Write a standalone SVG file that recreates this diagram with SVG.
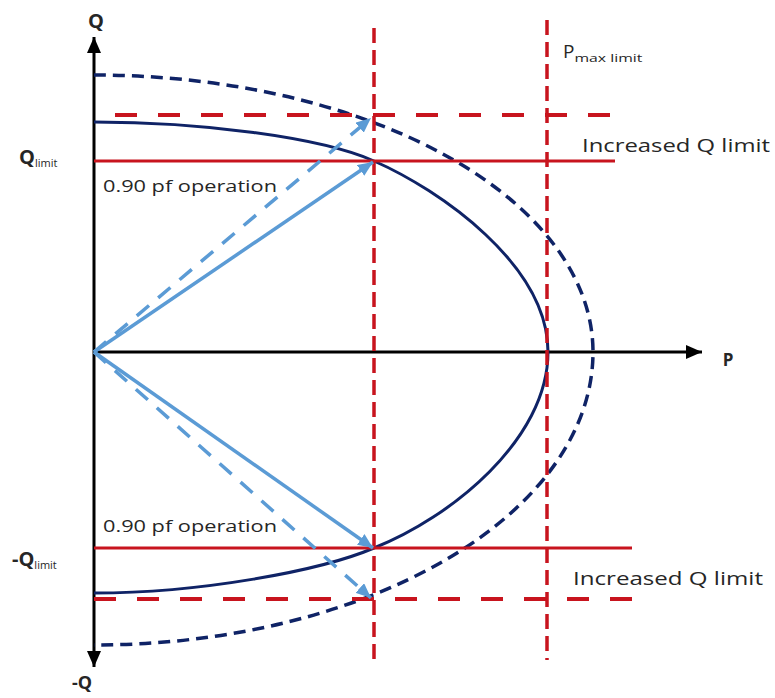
<svg xmlns="http://www.w3.org/2000/svg" width="775" height="698" viewBox="0 0 775 698">
<defs>
<style>
.txt{font-family:"Open Sans","Liberation Sans",sans-serif;fill:#262626;}
.lbl{font-size:16px;}
.big{font-size:20px;font-weight:bold;}
.sub{font-size:11px;font-weight:normal;}
.axis{stroke:#000;stroke-width:3;fill:none;}
.redv{stroke:#C8141E;stroke-width:3.5;stroke-dasharray:15 7;fill:none;}
.redh{stroke:#C8141E;stroke-width:3;fill:none;}
.redhd{stroke:#C8141E;stroke-width:4;stroke-dasharray:22 21;fill:none;}
.cap{stroke:#0F2366;stroke-width:3;fill:none;}
.capd{stroke:#0F2366;stroke-width:3.5;stroke-dasharray:12 7;fill:none;}
.vec{stroke:#5B9BD5;stroke-width:3.5;fill:none;marker-end:url(#bh);}
.vecd{stroke:#5B9BD5;stroke-width:3.5;fill:none;stroke-dasharray:16 12;marker-end:url(#bh);}
</style>
<marker id="bh" markerUnits="userSpaceOnUse" markerWidth="15" markerHeight="13" refX="15" refY="6.5" orient="auto">
<path d="M0,0 L15,6.5 L0,13 z" fill="#5B9BD5"/>
</marker>
<marker id="ah" markerUnits="userSpaceOnUse" markerWidth="16" markerHeight="14" refX="16" refY="7" orient="auto-start-reverse">
<path d="M0,0 L16,7 L0,14 z" fill="#000"/>
</marker>
</defs>
<rect width="775" height="698" fill="#fff"/>

<g id="axes">
<line class="axis" x1="94" y1="667" x2="94" y2="37" marker-start="url(#ah)" marker-end="url(#ah)"/>
<line class="axis" x1="94" y1="352" x2="702" y2="352" marker-end="url(#ah)"/>
</g>

<g id="capability-curves">
<path id="curve-solid" class="cap" d="M94,122 C200,122 320,137 374,161 C440,190 548,265 548,352 C548,440 450,518 374,548 C320,571 200,593 94,593"/>
<path id="curve-dashed" class="capd" d="M94,75 A499,277 0 0 1 593,352 A499,293 0 0 1 94,645"/>
</g>

<g id="limit-lines">
<line class="redh" x1="94" y1="161" x2="615" y2="161"/>
<line class="redhd" x1="115" y1="115" x2="615" y2="115"/>
<line class="redh" x1="94" y1="548" x2="632" y2="548"/>
<line class="redhd" x1="94" y1="599" x2="632" y2="599"/>
<line class="redv" x1="374" y1="28" x2="374" y2="660"/>
<line class="redv" x1="547" y1="20" x2="547" y2="660"/>
</g>

<g id="connectors">
<line class="vecd" x1="94" y1="352" x2="371" y2="118"/>
<line class="vec" x1="94" y1="352" x2="373" y2="162"/>
<line class="vec" x1="94" y1="352" x2="373" y2="548"/>
<line class="vecd" x1="94" y1="352" x2="371" y2="598"/>
</g>

<g id="labels">
<text class="txt big" x="96" y="28" text-anchor="middle">Q</text>
<text class="txt big" x="82" y="689" text-anchor="middle" style="font-size:18px">-Q</text>
<text class="txt big" x="728" y="366" text-anchor="middle" style="font-size:17px">P</text>
<text class="txt big" x="19" y="164">Q<tspan class="sub" dy="3">limit</tspan></text>
<text class="txt big" x="12" y="566">-Q<tspan class="sub" dy="3">limit</tspan></text>
<text class="txt" x="563" y="58" style="font-size:19px">P<tspan class="sub" dy="4" textLength="68" lengthAdjust="spacingAndGlyphs">max limit</tspan></text>
<text class="txt lbl" x="103" y="192" textLength="174" lengthAdjust="spacingAndGlyphs">0.90 pf operation</text>
<text class="txt lbl" x="103" y="532" textLength="174" lengthAdjust="spacingAndGlyphs">0.90 pf operation</text>
<text class="txt" x="582" y="152" style="font-size:19px" textLength="188" lengthAdjust="spacingAndGlyphs">Increased Q limit</text>
<text class="txt" x="573" y="585" style="font-size:19px" textLength="190" lengthAdjust="spacingAndGlyphs">Increased Q limit</text>
</g>
</svg>
